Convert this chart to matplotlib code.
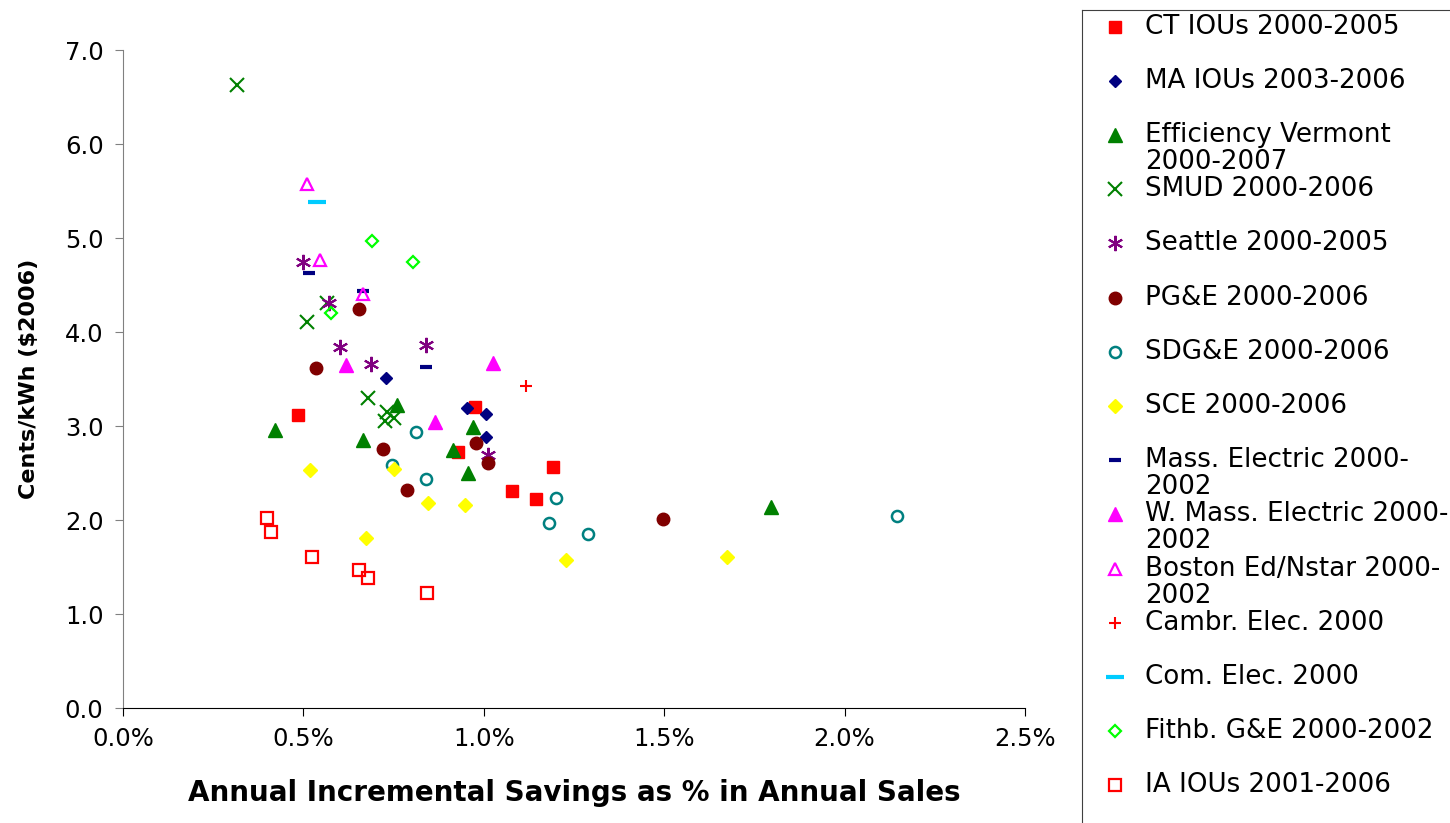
import matplotlib
matplotlib.use("Agg")
import matplotlib.pyplot as plt
from matplotlib.ticker import FuncFormatter, MultipleLocator

# savings (% of annual sales) and cost (cents/kWh, $2006) for each program
ct_x = [0.485, 0.976, 0.928, 1.192, 1.078, 1.145]
ct_y = [3.12, 3.20, 2.72, 2.56, 2.31, 2.22]
ma_x = [0.729, 0.953, 1.006, 1.006]
ma_y = [3.51, 3.19, 3.13, 2.88]
ev_x = [0.421, 0.759, 0.665, 0.970, 0.915, 0.956, 1.796]
ev_y = [2.96, 3.22, 2.85, 2.99, 2.74, 2.50, 2.14]
smud_x = [0.316, 0.509, 0.565, 0.679, 0.731, 0.751, 0.726]
smud_y = [6.63, 4.11, 4.31, 3.30, 3.15, 3.09, 3.05]
sea_x = [0.499, 0.571, 0.601, 0.687, 0.840, 1.012]
sea_y = [4.74, 4.31, 3.84, 3.66, 3.86, 2.69]
pge_x = [0.654, 0.535, 0.721, 0.978, 1.012, 0.787, 1.497]
pge_y = [4.24, 3.62, 2.76, 2.82, 2.61, 2.32, 2.01]
sdge_x = [0.812, 0.746, 0.840, 1.200, 1.181, 1.289, 2.145]
sdge_y = [2.94, 2.59, 2.44, 2.23, 1.97, 1.85, 2.04]
sce_x = [0.518, 0.751, 0.845, 0.948, 0.673, 1.228, 1.674]
sce_y = [2.53, 2.54, 2.18, 2.16, 1.81, 1.57, 1.61]
mass_x = [0.516, 0.665, 0.840]
mass_y = [4.63, 4.44, 3.63]
wmass_x = [0.618, 1.025, 0.865]
wmass_y = [3.65, 3.67, 3.04]
bos_x = [0.510, 0.546, 0.665]
bos_y = [5.57, 4.77, 4.40]
cam_x = [1.117]
cam_y = [3.43]
com_x = [0.538]
com_y = [5.38]
fit_x = [0.690, 0.804, 0.576]
fit_y = [4.97, 4.74, 4.20]
ia_x = [0.399, 0.410, 0.524, 0.654, 0.679, 0.843]
ia_y = [2.02, 1.87, 1.61, 1.47, 1.38, 1.22]

labels = ["CT IOUs 2000-2005", "MA IOUs 2003-2006", "Efficiency Vermont\n2000-2007",
          "SMUD 2000-2006", "Seattle 2000-2005", "PG&E 2000-2006", "SDG&E 2000-2006",
          "SCE 2000-2006", "Mass. Electric 2000-\n2002", "W. Mass. Electric 2000-\n2002",
          "Boston Ed/Nstar 2000-\n2002", "Cambr. Elec. 2000", "Com. Elec. 2000",
          "Fithb. G&E 2000-2002", "IA IOUs 2001-2006"]

xs = [ct_x, ma_x, ev_x, smud_x, sea_x, pge_x, sdge_x, sce_x, mass_x, wmass_x,
      bos_x, cam_x, com_x, fit_x, ia_x]
ys = [ct_y, ma_y, ev_y, smud_y, sea_y, pge_y, sdge_y, sce_y, mass_y, wmass_y,
      bos_y, cam_y, com_y, fit_y, ia_y]

# marker styles per series (excel-like)
styles = [
    dict(marker="s", ms=8.5, mfc="#FF0000", mec="#FF0000"),
    dict(marker="D", ms=6.5, mfc="#000080", mec="#000080"),
    dict(marker="^", ms=10, mfc="#008000", mec="#008000"),
    dict(marker="x", ms=10, mec="#008000", mew=1.5),
    dict(marker=(6, 2, 0), ms=11, mec="#800080", mew=1.5),
    dict(marker="o", ms=9, mfc="#800000", mec="#800000"),
    dict(marker="o", ms=8, mfc="none", mec="#008080", mew=1.8),
    dict(marker="D", ms=7, mfc="#FFFF00", mec="#FFFF00"),
    dict(marker="_", ms=8, mec="#000080", mew=3),
    dict(marker="^", ms=10, mfc="#FF00FF", mec="#FF00FF"),
    dict(marker="^", ms=9, mfc="none", mec="#FF00FF", mew=1.6),
    dict(marker="+", ms=9, mec="#FF0000", mew=1.5),
    dict(marker="_", ms=13, mec="#00CCFF", mew=3),
    dict(marker="D", ms=6, mfc="none", mec="#00FF00", mew=1.6),
    dict(marker="s", ms=8, mfc="none", mec="#FF0000", mew=1.6),
]

fig = plt.figure(figsize=(14.5, 8.23), dpi=100)
ax = fig.add_axes([123 / 1450, 1 - 708 / 823, (1025 - 123) / 1450, (708 - 50) / 823])

for x, y, st in zip(xs, ys, styles):
    ax.plot(x, y, linestyle="none", **st)

ax.set_xlim(0, 2.5)
ax.set_ylim(0, 7)
ax.xaxis.set_major_locator(MultipleLocator(0.5))
ax.yaxis.set_major_locator(MultipleLocator(1))
ax.xaxis.set_major_formatter(FuncFormatter(lambda v, p: "%.1f%%" % v))
ax.yaxis.set_major_formatter(FuncFormatter(lambda v, p: "%.1f" % v))
ax.tick_params(direction="out", length=6, labelsize=17.5, pad=8)
ax.tick_params(axis="y", colors="#808080", labelcolor="black")
ax.spines["top"].set_visible(False)
ax.spines["right"].set_visible(False)
ax.spines["left"].set_color("#808080")
ax.spines["bottom"].set_color("black")

ax.set_xlabel("Annual Incremental Savings as % in Annual Sales", fontsize=20,
              fontweight="bold", labelpad=20)
ax.set_ylabel("Cents/kWh ($2006)", fontsize=16, fontweight="bold", labelpad=18.5)

# legend drawn by hand in pixel coords so wrapped labels sit like excel
lax = fig.add_axes([1082 / 1450, -0.05, 0.3, 1.05 - 10 / 823])
lax.set_xlim(1082, 1082 + 0.3 * 1450)
lax.set_ylim(823 + 0.05 * 823, 10)
lax.set_xticks([])
lax.set_yticks([])
lax.spines["right"].set_visible(False)
lax.spines["bottom"].set_visible(False)
lax.spines["left"].set_color("#404040")
lax.spines["top"].set_color("#404040")
for i, (lab, st) in enumerate(zip(labels, styles)):
    yy = 26.5 + 54.2 * i
    lax.plot([1115], [yy], linestyle="none", clip_on=False, **st)
    for j, line in enumerate(lab.split("\n")):
        lax.text(1145, yy + 27 * j, line, fontsize=18.8, va="center", ha="left")

fig.savefig("out.png", dpi=100)
